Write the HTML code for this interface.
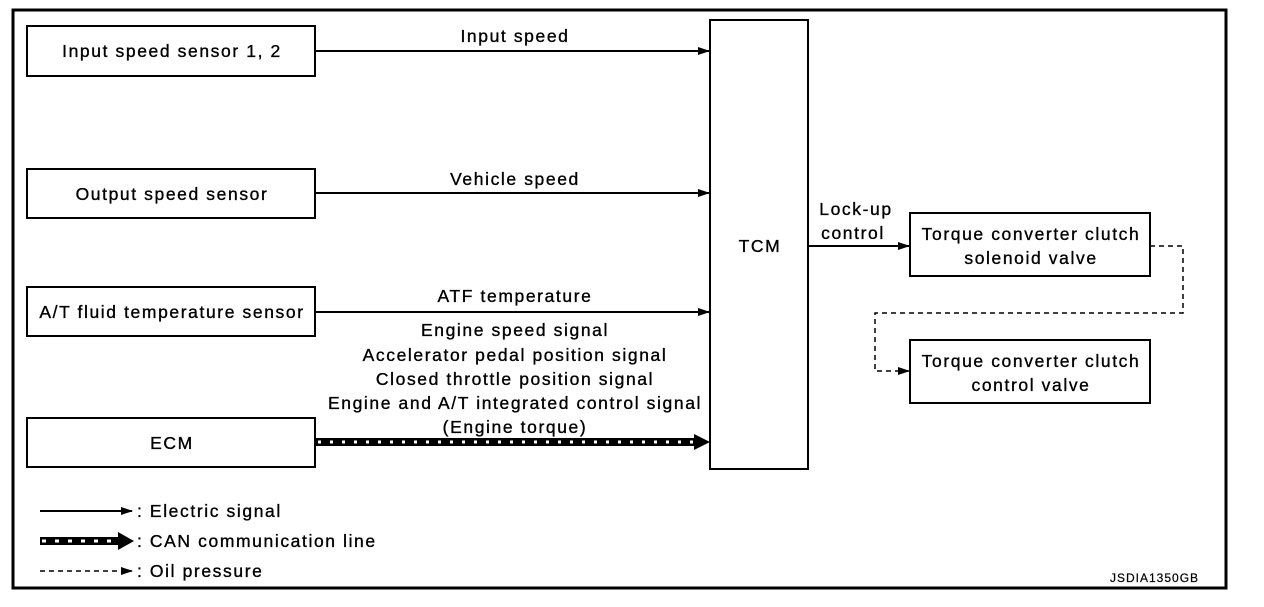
<!DOCTYPE html>
<html><head><style>
body{margin:0;background:#fff}
svg text{font-family:"Liberation Sans",Arial,sans-serif;font-size:17.5px;fill:#000;letter-spacing:1.6px;stroke:#000;stroke-width:0.35}
</style></head><body>
<svg width="1264" height="602" xmlns="http://www.w3.org/2000/svg">
<defs>
<marker id="a" markerWidth="12" markerHeight="8" refX="11" refY="4" orient="auto" markerUnits="userSpaceOnUse"><path d="M0,0 L12,4 L0,8 z" fill="#000"/></marker>
</defs>
<rect x="13" y="10" width="1213" height="578" fill="none" stroke="#000" stroke-width="3"/>
<g fill="none" stroke="#000" stroke-width="2">
<rect x="27" y="26" width="288" height="50"/>
<rect x="27" y="169" width="288" height="49"/>
<rect x="27" y="287" width="288" height="49"/>
<rect x="27" y="418" width="288" height="49"/>
<rect x="710" y="20" width="98" height="449"/>
<rect x="910" y="213" width="240" height="63"/>
<rect x="910" y="340" width="240" height="63"/>
</g>
<g stroke="#000" stroke-width="2" fill="none">
<line x1="315" y1="51" x2="709" y2="51" marker-end="url(#a)"/>
<line x1="315" y1="193" x2="709" y2="193" marker-end="url(#a)"/>
<line x1="315" y1="312" x2="709" y2="312" marker-end="url(#a)"/>
<line x1="808" y1="246" x2="909" y2="246" marker-end="url(#a)"/>
<polyline points="1150,246 1183,246 1183,313 875,313 875,371 909,371" stroke-dasharray="5,4" stroke-width="1.5" marker-end="url(#a)"/>
<line x1="40" y1="511" x2="132" y2="511" marker-end="url(#a)"/>
<line x1="40" y1="571" x2="132" y2="571" stroke-dasharray="5,4" stroke-width="1.5" marker-end="url(#a)"/>
</g>
<line x1="315" y1="442" x2="696" y2="442" stroke="#000" stroke-width="8"/>
<line x1="318" y1="442" x2="696" y2="442" stroke="#fff" stroke-width="3" stroke-dasharray="3,9"/>
<path d="M694,434 L710,442 L694,450 z" fill="#000"/>
<line x1="40" y1="541" x2="120" y2="541" stroke="#000" stroke-width="8"/>
<line x1="42" y1="541" x2="120" y2="541" stroke="#fff" stroke-width="3" stroke-dasharray="4,9"/>
<path d="M118,532 L134,541 L118,550 z" fill="#000"/>
<g text-anchor="middle">
<text x="172" y="57">Input speed sensor 1, 2</text>
<text x="172" y="200">Output speed sensor</text>
<text x="172" y="318">A/T fluid temperature sensor</text>
<text x="172" y="449">ECM</text>
<text x="760" y="252">TCM</text>
<text x="1031" y="240">Torque converter clutch</text>
<text x="1031" y="264">solenoid valve</text>
<text x="1031" y="367">Torque converter clutch</text>
<text x="1031" y="391">control valve</text>
<text x="515" y="42">Input speed</text>
<text x="515" y="185">Vehicle speed</text>
<text x="515" y="302">ATF temperature</text>
<text x="515" y="336">Engine speed signal</text>
<text x="515" y="361">Accelerator pedal position signal</text>
<text x="515" y="385">Closed throttle position signal</text>
<text x="515" y="409">Engine and A/T integrated control signal</text>
<text x="515" y="433">(Engine torque)</text>
<text x="856" y="215">Lock-up</text>
<text x="853" y="239">control</text>
</g>
<text x="137" y="517">: Electric signal</text>
<text x="137" y="547">: CAN communication line</text>
<text x="137" y="577">: Oil pressure</text>
<text x="1110" y="582" style="font-size:12px;letter-spacing:1px;stroke-width:0.2">JSDIA1350GB</text>
</svg>
</body></html>
